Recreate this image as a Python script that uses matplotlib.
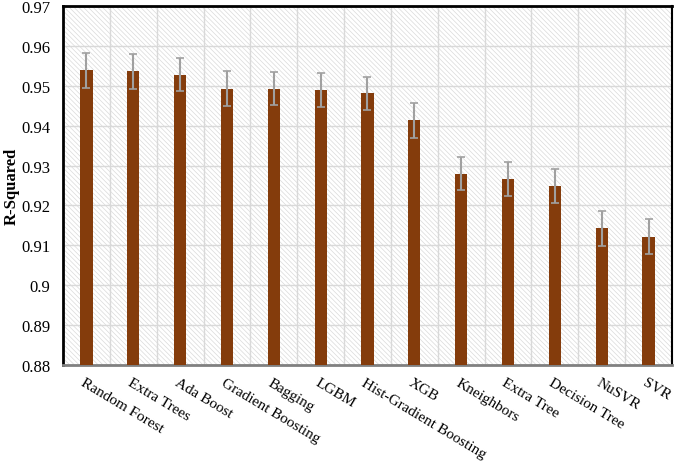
import matplotlib
matplotlib.use("Agg")
import matplotlib.pyplot as plt
from matplotlib.patches import Rectangle
from matplotlib.ticker import FixedLocator, FuncFormatter
import numpy as np

models = ["Random Forest", "Extra Trees", "Ada Boost", "Gradient Boosting", "Bagging",
          "LGBM", "Hist-Gradient Boosting", "XGB", "Kneighbors", "Extra Tree",
          "Decision Tree", "NuSVR", "SVR"]
r2 = [0.9539, 0.9536, 0.9528, 0.9493, 0.9493, 0.9490, 0.9481, 0.9413,
      0.9280, 0.9266, 0.9249, 0.9143, 0.9122]
err = [0.0044, 0.0043, 0.0042, 0.0043, 0.0042, 0.0043, 0.0042, 0.0043,
       0.0042, 0.0043, 0.0043, 0.0044, 0.0044]
y_ticks = [0.88, 0.89, 0.90, 0.91, 0.92, 0.93, 0.94, 0.95, 0.96, 0.97]

plt.rcParams['font.family'] = ['Liberation Serif', 'DejaVu Serif']
plt.rcParams['hatch.linewidth'] = 0.5

fig = plt.figure(figsize=(6.76, 4.64), dpi=100)
ax = fig.add_axes([0.0932, 0.211, 0.9008, 0.774])

x = np.arange(len(models))
ax.set_xlim(-0.5, len(models) - 0.5)
ax.set_ylim(y_ticks[0], y_ticks[-1])

# hatched background
bg = Rectangle((0, 0), 1, 1, transform=ax.transAxes, facecolor='white',
               edgecolor='#dadada', hatch='\\\\\\\\\\\\\\', linewidth=0, zorder=0)
ax.add_patch(bg)

ax.set_yticks(y_ticks)
ax.yaxis.set_major_formatter(FuncFormatter(lambda v, p: f"{v:g}"))
ax.set_xticks(x)
ax.set_xticklabels([])
ax.xaxis.set_minor_locator(FixedLocator(np.arange(-0.5, len(models), 1.0)))
ax.grid(axis='y', which='major', color='#d9d9d9', linewidth=1.0, zorder=1)
ax.grid(axis='x', which='minor', color='#d9d9d9', linewidth=1.0, zorder=1)
ax.set_axisbelow(True)

ax.bar(x, r2, width=0.26, color='#843C0C', zorder=3)
ax.errorbar(x, r2, yerr=err, fmt='none', ecolor='#a0a0a0', elinewidth=1.5,
            capsize=3, capthick=1.2, zorder=4)

ax.tick_params(axis='both', which='both', length=0)
ax.tick_params(axis='y', labelsize=12, pad=9)

for xi, name in zip(x, models):
    ax.text(xi - 0.03, 0.8773, name, rotation=-31, rotation_mode='anchor',
            ha='left', va='top', fontsize=11, transform=ax.transData,
            clip_on=False)

ax.set_ylabel("R-Squared", fontweight='bold', fontsize=12, labelpad=1)

for s in ['left', 'top']:
    ax.spines[s].set_color('black')
    ax.spines[s].set_linewidth(2)
ax.spines['right'].set_color('black')
ax.spines['right'].set_linewidth(1.5)
ax.spines['bottom'].set_color('#808080')
ax.spines['bottom'].set_linewidth(2)

fig.savefig("out.png", dpi=100)
